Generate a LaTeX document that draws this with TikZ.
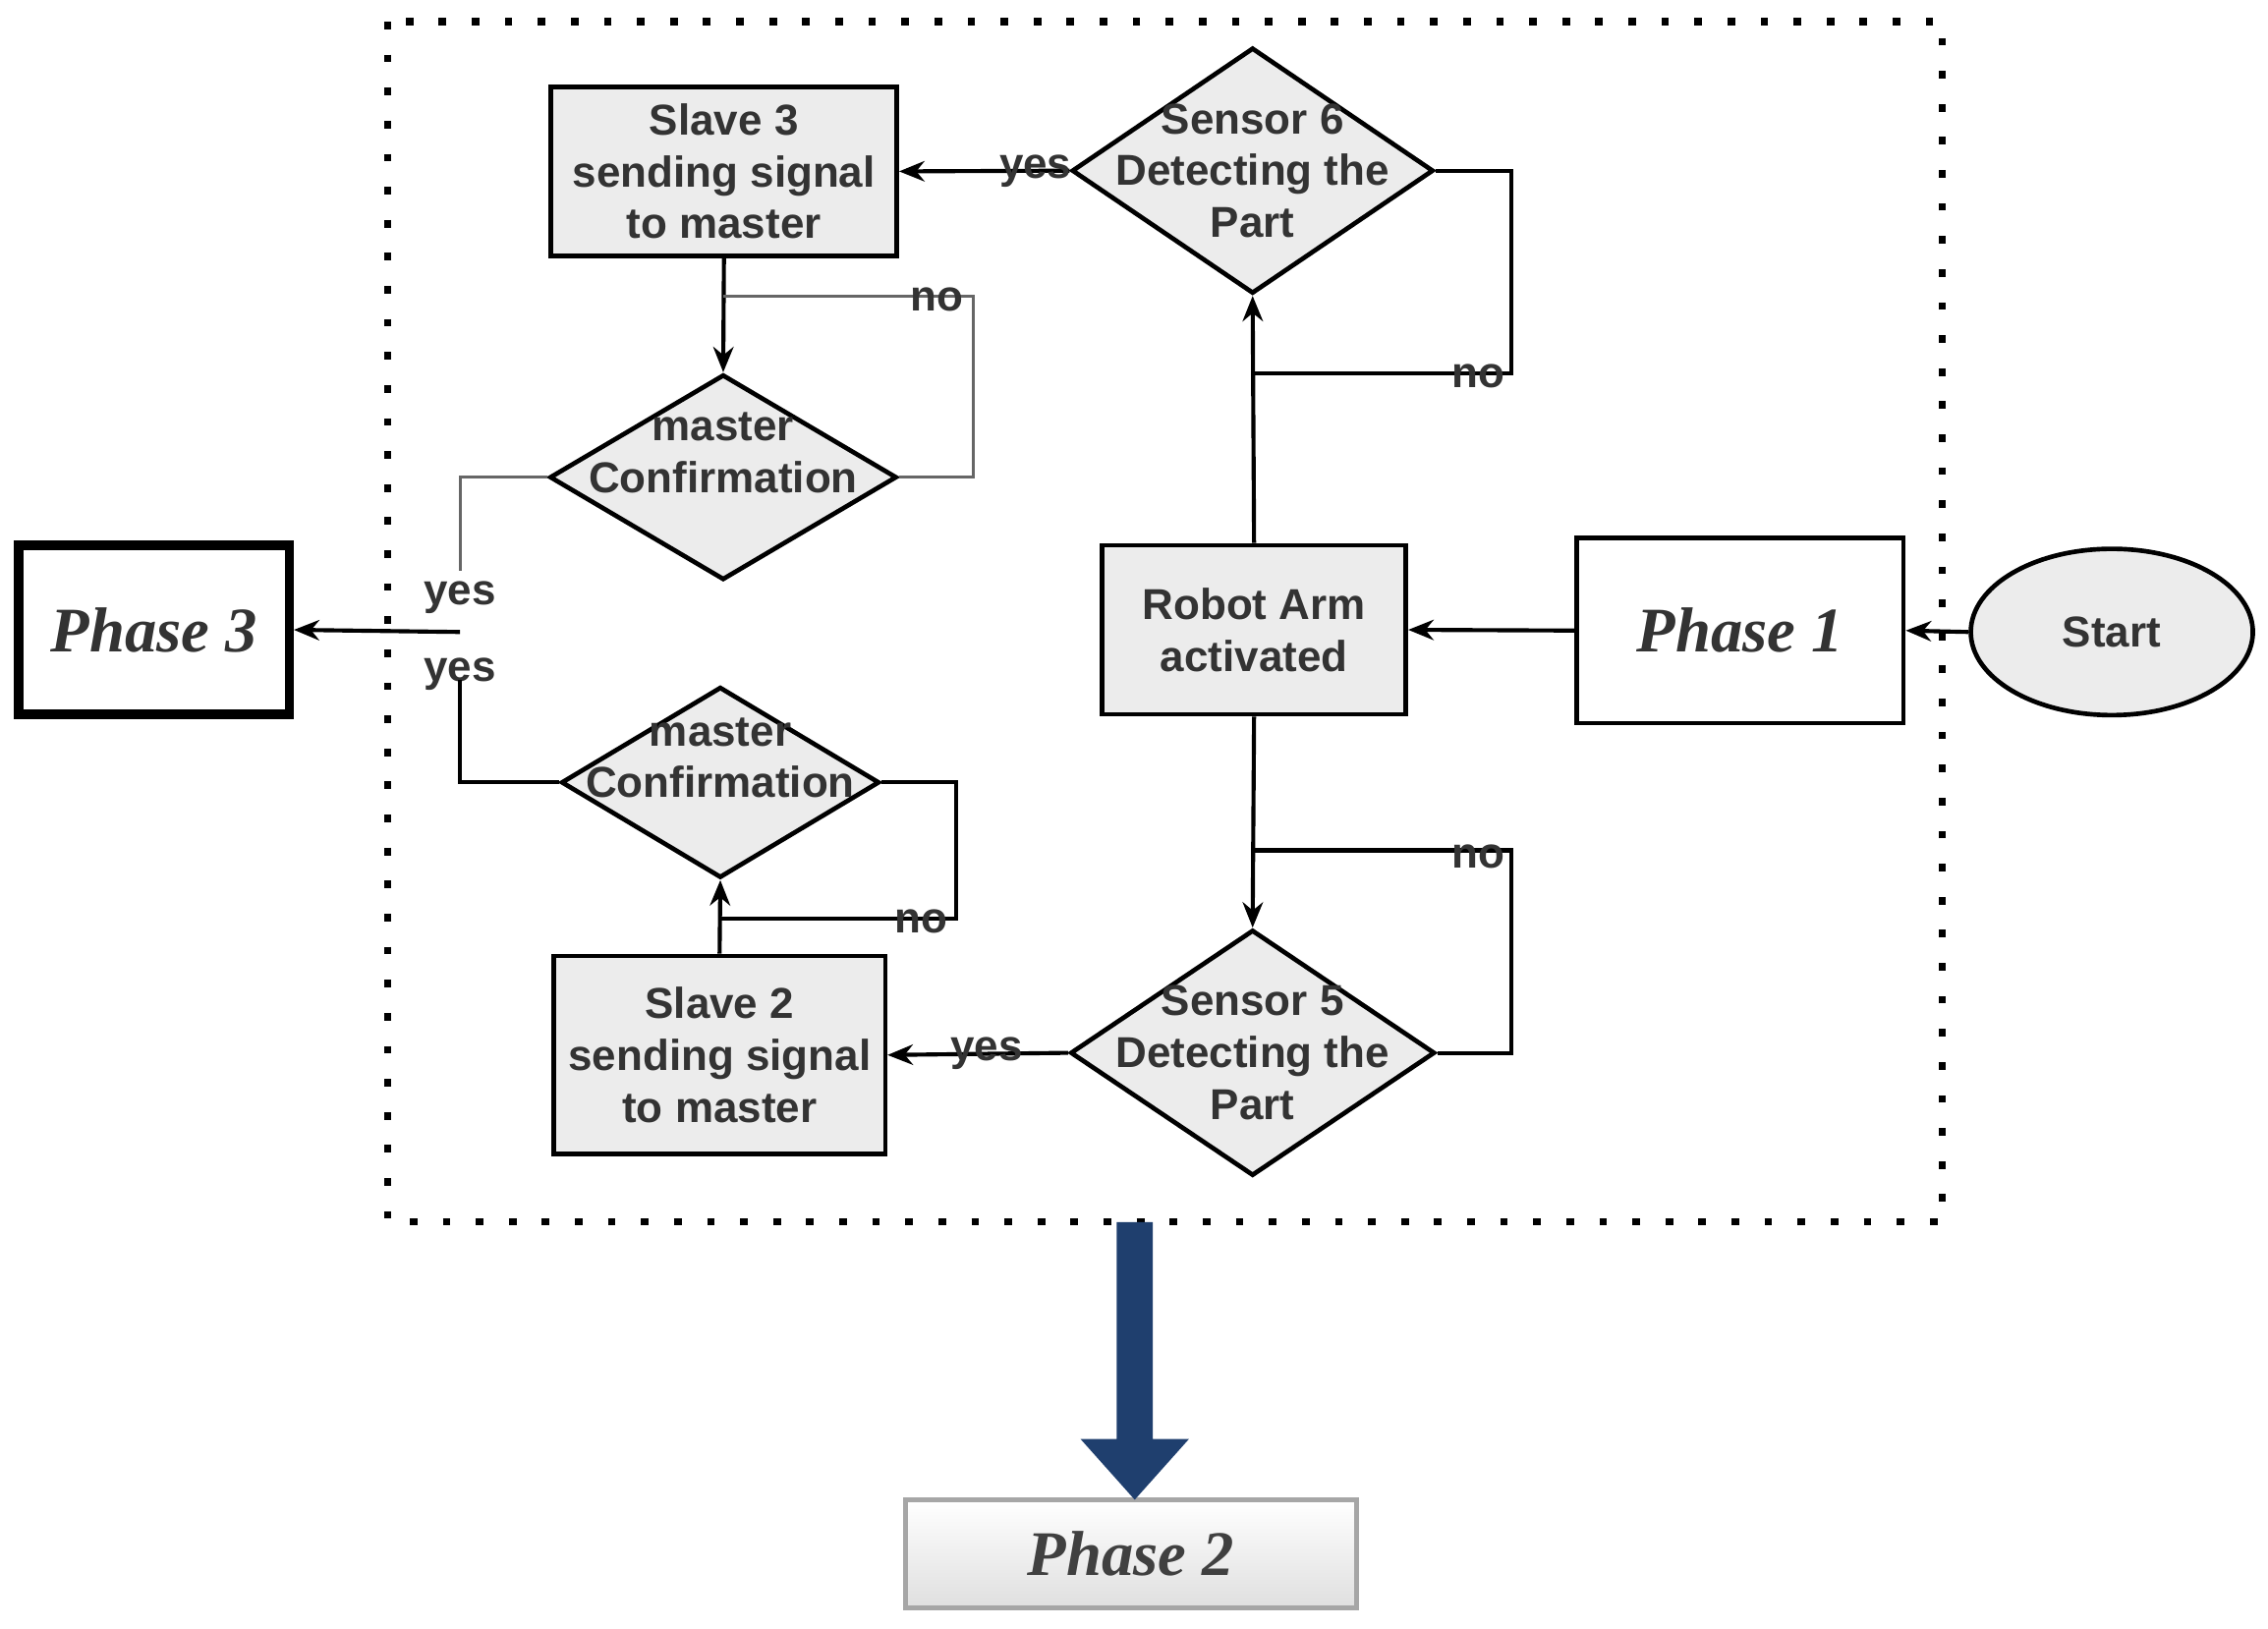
\documentclass[tikz,border=0pt]{standalone}
\usepackage{fontspec}
\setmainfont{Liberation Sans}
\newfontfamily\serifx{Liberation Serif}
\usetikzlibrary{shapes.geometric,arrows.meta}
\begin{document}
\begin{tikzpicture}[
  every node/.style={font=\fontsize{8.5}{10.2}\selectfont\bfseries, text=black!80},
  box/.style={draw, line width=0.9pt, fill=gray!15, inner sep=0, align=center},
  dia/.style={draw, diamond, line width=0.9pt, fill=gray!15, inner sep=0, aspect=1.5},
  lab/.style={align=center, inner sep=0},
  arr/.style={-{Stealth[length=5pt,width=4pt]}, line width=0.8pt},
  ln/.style={line width=0.8pt},
  thin/.style={line width=0.6pt, draw=black!60},
  ph/.style={font=\serifx\fontsize{12.5}{14}\selectfont\bfseries\itshape}
]
\useasboundingbox (0,0) rectangle (15.68,-11.26);
\draw[line width=1.4pt, dash pattern=on 1.5pt off 5pt] (2.68,-0.15) rectangle (13.43,-8.45);

\node[draw, ellipse, fill=gray!15, line width=0.9pt, minimum width=1.95cm, minimum height=1.15cm] (start) at (14.60,-4.37) {Start};
\node[draw, line width=0.9pt, fill=white, minimum width=2.26cm, minimum height=1.28cm, ph] (p1) at (12.03,-4.36) {Phase 1};
\node[box, minimum width=2.10cm, minimum height=1.17cm] (robot) at (8.67,-4.355) {Robot Arm\\activated};
\node[dia, minimum width=2.50cm, minimum height=1.70cm] (s6) at (8.66,-1.18) {};
\node[lab] at (s6) {Sensor 6\\Detecting the\\Part};
\node[box, minimum width=2.39cm, minimum height=1.17cm] (sl3) at (5.005,-1.185) {Slave 3\\sending signal\\to master};
\node[dia, minimum width=2.40cm, minimum height=1.42cm] (m1) at (5.00,-3.30) {};
\node[lab] at (5.00,-3.13) {master\\Confirmation};
\node[dia, minimum width=2.20cm, minimum height=1.32cm] (m2) at (4.98,-5.41) {};
\node[lab] at (4.98,-5.24) {master\\Confirmation};
\node[box, minimum width=2.29cm, minimum height=1.37cm] (sl2) at (4.975,-7.295) {Slave 2\\sending signal\\to master};
\node[dia, minimum width=2.52cm, minimum height=1.70cm] (s5) at (8.66,-7.28) {};
\node[lab] at (s5) {Sensor 5\\Detecting the\\Part};
\node[draw, line width=1.8pt, fill=white, minimum width=1.87cm, minimum height=1.17cm, ph] (p3) at (1.065,-4.355) {Phase 3};
\node[draw=gray!70, line width=0.9pt, top color=white, bottom color=gray!25, minimum width=3.12cm, minimum height=0.75cm, ph, text=black!75] (p2) at (7.82,-10.745) {Phase 2};

\fill[fill={rgb,255:red,31;green,63;blue,110}] (7.72,-8.45) -- (7.97,-8.45) -- (7.97,-9.95) -- (8.22,-9.95) -- (7.845,-10.37) -- (7.47,-9.95) -- (7.72,-9.95) -- cycle;

\draw[arr] (start.west) -- (p1.east);
\draw[arr] (p1.west) -- (robot.east);
\draw[arr] (robot.north) -- (s6.south);
\draw[arr] (robot.south) -- (s5.north);
\draw[arr] (s6.west) -- node[pos=0.2, inner sep=0] {yes} (sl3.east);
\draw[arr] (s5.west) -- node[pos=0.45, inner sep=0] {yes} (sl2.east);
\draw[arr] (sl3.south) -- (m1.north);
\draw[arr] (sl2.north) -- (m2.south);

\coordinate (n6) at (8.66,-2.58);
\draw[ln] (s6.east) -- (10.45,-1.18) -- (10.45,-2.58) -- (n6);
\node at (10.22,-2.60) {no};
\coordinate (n5) at (8.66,-5.88);
\draw[ln] (s5.east) -- (10.45,-7.28) -- (10.45,-5.88) -- (n5);
\node at (10.22,-5.92) {no};
\coordinate (nm1) at (5.00,-2.05);
\draw[thin] (m1.east) -- (6.73,-3.30) -- (6.73,-2.05) -- (nm1);
\node at (6.48,-2.07) {no};
\coordinate (nm2) at (4.98,-6.35);
\draw[ln] (m2.east) -- (6.61,-5.41) -- (6.61,-6.35) -- (nm2);
\node at (6.37,-6.37) {no};

\coordinate (j) at (3.18,-4.37);
\draw[thin] (m1.west) -- (3.18,-3.30) -- (3.18,-3.95);
\node at (3.18,-4.13) {yes};
\node at (3.18,-4.66) {yes};
\draw[ln] (m2.west) -- (3.18,-5.41) -- (3.18,-4.70);
\draw[arr] (j) -- (p3.east);
\end{tikzpicture}
\end{document}
